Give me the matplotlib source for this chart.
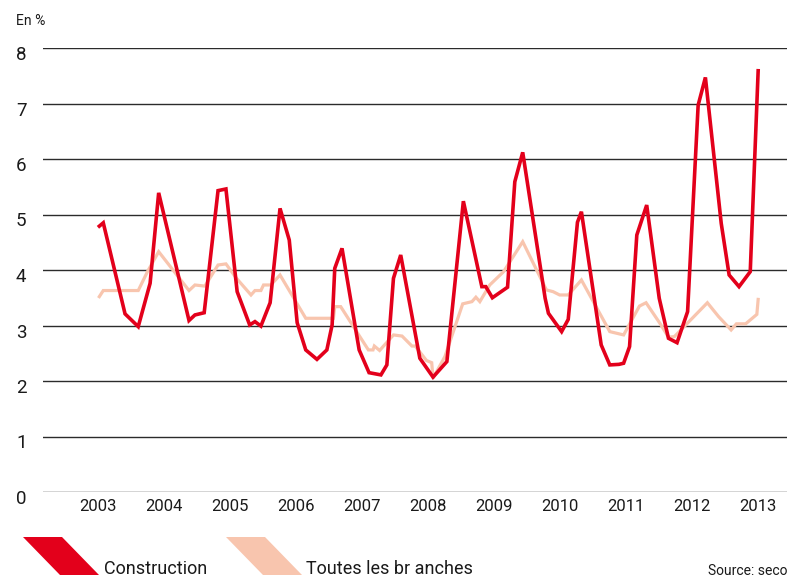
import matplotlib
matplotlib.use("Agg")
import matplotlib.pyplot as plt
from matplotlib.patches import Polygon
from matplotlib.transforms import blended_transform_factory, offset_copy

# ---- data (decimal years, percent) ----
constr_t = [2003.02, 2003.08, 2003.41, 2003.61, 2003.79, 2003.92, 2004.38, 2004.47, 2004.61, 2004.82,
            2004.94, 2005.11, 2005.30, 2005.38, 2005.47, 2005.61, 2005.76, 2005.90, 2006.02, 2006.15,
            2006.32, 2006.47, 2006.55, 2006.59, 2006.70, 2006.96, 2007.11, 2007.29, 2007.38, 2007.48,
            2007.59, 2007.88, 2008.08, 2008.29, 2008.54, 2008.82, 2008.88, 2008.98, 2009.21, 2009.32,
            2009.44, 2009.78, 2009.83, 2010.03, 2010.13, 2010.27, 2010.33, 2010.63, 2010.76, 2010.90,
            2010.97, 2011.06, 2011.17, 2011.32, 2011.51, 2011.65, 2011.78, 2011.94, 2012.10, 2012.21,
            2012.45, 2012.57, 2012.72, 2012.89, 2013.01]
constr_v = [4.79, 4.85, 3.21, 2.98, 3.76, 5.39, 3.09, 3.19, 3.23, 5.43,
            5.46, 3.61, 3.01, 3.07, 2.99, 3.41, 5.11, 4.54, 3.05, 2.56,
            2.39, 2.56, 3.01, 4.03, 4.39, 2.56, 2.15, 2.11, 2.29, 3.85,
            4.27, 2.41, 2.07, 2.35, 5.24, 3.70, 3.70, 3.50, 3.69, 5.59,
            6.12, 3.49, 3.22, 2.89, 3.11, 4.86, 5.05, 2.65, 2.29, 2.30,
            2.32, 2.62, 4.63, 5.17, 3.49, 2.77, 2.69, 3.25, 6.97, 7.47,
            4.84, 3.91, 3.70, 3.97, 7.59]

all_t = [2003.02, 2003.08, 2003.61, 2003.75, 2003.92, 2004.38, 2004.47, 2004.62, 2004.82, 2004.94,
         2005.10, 2005.32, 2005.38, 2005.47, 2005.51, 2005.62, 2005.76, 2006.15, 2006.57, 2006.59,
         2006.68, 2006.97, 2007.10, 2007.17, 2007.19, 2007.27, 2007.48, 2007.61, 2007.76, 2007.81,
         2007.98, 2008.06, 2008.08, 2008.26, 2008.53, 2008.67, 2008.73, 2008.79, 2008.94, 2009.15,
         2009.44, 2009.80, 2009.90, 2010.00, 2010.13, 2010.33, 2010.76, 2010.90, 2010.97, 2011.21,
         2011.31, 2011.52, 2011.65, 2011.74, 2012.24, 2012.41, 2012.60, 2012.68, 2012.82, 2012.99,
         2013.01]
all_v = [3.52, 3.63, 3.63, 3.97, 4.33, 3.63, 3.73, 3.71, 4.09, 4.11,
         3.85, 3.55, 3.63, 3.63, 3.73, 3.73, 3.91, 3.13, 3.13, 3.34,
         3.34, 2.80, 2.56, 2.56, 2.63, 2.55, 2.83, 2.81, 2.63, 2.63,
         2.37, 2.33, 2.05, 2.44, 3.39, 3.43, 3.51, 3.43, 3.73, 3.97,
         4.51, 3.64, 3.61, 3.55, 3.55, 3.82, 2.89, 2.85, 2.83, 3.35,
         3.41, 3.04, 2.79, 2.80, 3.41, 3.16, 2.92, 3.03, 3.03, 3.20,
         3.47]

years = list(range(2003, 2014))
yticks = list(range(0, 9))

series_names = ["Construction", "Toutes les br anches"]
RED = "#E3001B"
PEACH = "#F8C5AE"

plt.rcParams['font.family'] = ['Roboto', 'DejaVu Sans']

W, H = 789, 578
fig = plt.figure(figsize=(W / 100, H / 100), dpi=100)
ax = fig.add_axes([43 / W, (H - 492) / H, (787 - 43) / W, (492 - 48) / H])

ax.plot(all_t, all_v, color=PEACH, lw=2.3, solid_joinstyle='miter', zorder=3)
ax.plot(constr_t, constr_v, color=RED, lw=2.6, solid_joinstyle='miter', zorder=4)

x0 = 2003 - (98 - 43) / 65.95
x1 = 2003 + (787 - 98) / 65.95
ax.set_xlim(x0, x1)
ax.set_ylim(0, 8)

ax.set_xticks(years)
ax.set_xticklabels([str(y) for y in years], fontsize=12, color="#1a1a1a")
ax.tick_params(axis='x', length=0, pad=5)

ax.set_yticks(yticks)
ax.set_yticklabels([])
ax.tick_params(axis='y', length=0)
ax.grid(axis='y', color='#2b2b2b', lw=1.0)
ax.set_axisbelow(True)
for s in ax.spines.values():
    s.set_visible(False)

tr = offset_copy(blended_transform_factory(fig.transFigure, ax.transData),
                 fig=fig, y=2, units='dots')
for v in yticks:
    ax.text(16 / W, v, str(v), transform=tr, fontsize=13.5, color="#1a1a1a",
            ha='left', va='top', clip_on=False)

fig.text(16 / W, 1 - 25 / H, "En %", fontsize=10, color="#1a1a1a", ha='left', va='baseline')

# legend
def fp(x, y):
    return (x / W, 1 - y / H)

fig.patches.append(Polygon([fp(23, 537), fp(62, 537), fp(99, 575), fp(60, 575)],
                           closed=True, transform=fig.transFigure, color=RED, lw=0))
fig.patches.append(Polygon([fp(226, 537), fp(265, 537), fp(302, 575), fp(263, 575)],
                           closed=True, transform=fig.transFigure, color=PEACH, lw=0))
fig.text(104 / W, 1 - 574 / H, series_names[0], fontsize=13, color="#1a1a1a",
         ha='left', va='baseline')
fig.text(306 / W, 1 - 574 / H, series_names[1], fontsize=13, color="#1a1a1a",
         ha='left', va='baseline')
fig.text(788 / W, 1 - 575 / H, "Source: seco", fontsize=10, color="#1a1a1a",
         ha='right', va='baseline')

fig.savefig("out.png", dpi=100)
